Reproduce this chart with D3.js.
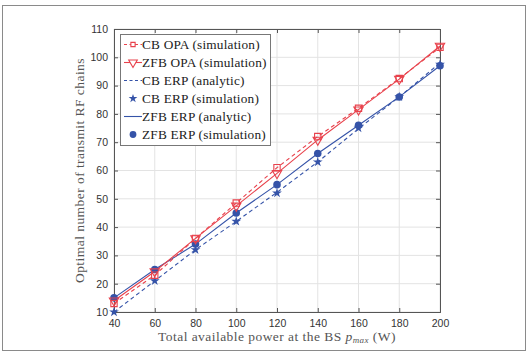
<!DOCTYPE html>
<html><head><meta charset="utf-8">
<script src="https://cdn.jsdelivr.net/npm/d3@7"></script>
<style>body{margin:0;background:#fff}svg{display:block}
.serif{font-family:'Liberation Serif','DejaVu Serif','Times New Roman',serif}
.sans{font-family:'Liberation Sans',Arial,sans-serif}
</style>
</head><body>
<script>
const xValues = [40, 60, 80, 100, 120, 140, 160, 180, 200];
const cbOpaSim = [13, 23, 36, 48.5, 61, 72, 82, 92.5, 103.5];
const zfbOpaSim = [14, 24.3, 36, 47.5, 59, 70.8, 81.5, 92.3, 104];
const cbErpAnalytic = [10, 21, 32, 42, 52.3, 63, 74.8, 86, 98];
const cbErpSim = [10, 21, 32, 42, 52, 63, 75, 86, 97.5];
const zfbErpAnalytic = [15, 25, 34, 45, 55, 66, 76, 86, 97];
const zfbErpSim = [15, 25, 34, 45, 55, 66, 76, 86, 97];
const xTicks = [40, 60, 80, 100, 120, 140, 160, 180, 200];
const yTicks = [10, 20, 30, 40, 50, 60, 70, 80, 90, 100, 110];
const legendLabels = ["CB OPA (simulation)", "ZFB OPA (simulation)", "CB ERP (analytic)", "CB ERP (simulation)", "ZFB ERP (analytic)", "ZFB ERP (simulation)"];

const W = 529, H = 353;
const m = {l: 114, r: 440, t: 29, b: 312};
const RED = "#e8424c", BLUE = "#3553a8";
const svg = d3.select("body").append("svg").attr("width", W).attr("height", H);
svg.append("rect").attr("x", 2.5).attr("y", 5.5).attr("width", 523).attr("height", 345)
  .attr("fill", "#fff").attr("stroke", "#8a8a8a").attr("stroke-width", 1);

const x = d3.scaleLinear().domain([40, 200]).range([m.l, m.r]);
const y = d3.scaleLinear().domain([10, 110]).range([m.b, m.t]);

// grid
const g = svg.append("g");
g.selectAll(".gx").data(xTicks).join("line").attr("x1", d => x(d)).attr("x2", d => x(d))
  .attr("y1", m.t).attr("y2", m.b).attr("stroke", "#e3e3e3").attr("stroke-width", 1);
g.selectAll(".gy").data(yTicks).join("line").attr("y1", d => y(d)).attr("y2", d => y(d))
  .attr("x1", m.l).attr("x2", m.r).attr("stroke", "#e3e3e3").attr("stroke-width", 1);

// axes
const axCol = "#555";
const xAxis = svg.append("g").attr("transform", `translate(0,${m.b})`)
  .call(d3.axisBottom(x).tickValues(xTicks).tickSize(-4).tickPadding(8));
const xAxisTop = svg.append("g").attr("transform", `translate(0,${m.t})`)
  .call(d3.axisTop(x).tickValues(xTicks).tickSize(-4).tickFormat(""));
const yAxis = svg.append("g").attr("transform", `translate(${m.l},0)`)
  .call(d3.axisLeft(y).tickValues(yTicks).tickSize(-4).tickPadding(6));
const yAxisR = svg.append("g").attr("transform", `translate(${m.r},0)`)
  .call(d3.axisRight(y).tickValues(yTicks).tickSize(-4).tickFormat(""));
[xAxis, xAxisTop, yAxis, yAxisR].forEach(a => {
  a.attr("font-family", null);
  a.select(".domain").attr("stroke", axCol);
  a.selectAll(".tick line").attr("stroke", axCol);
  a.selectAll("text").attr("fill", "#333").attr("class", "sans").attr("font-size", 10.5);
});

// lines
const line = d3.line().x((d, i) => x(xValues[i])).y(d => y(d));
const plot = svg.append("g");
plot.append("path").datum(cbErpAnalytic).attr("d", line).attr("fill", "none").attr("stroke", BLUE).attr("stroke-width", 1.1).attr("stroke-dasharray", "4,3");
plot.append("path").datum(zfbErpAnalytic).attr("d", line).attr("fill", "none").attr("stroke", BLUE).attr("stroke-width", 1.1);
plot.append("path").datum(cbOpaSim).attr("d", line).attr("fill", "none").attr("stroke", RED).attr("stroke-width", 1.1).attr("stroke-dasharray", "4,3");
plot.append("path").datum(zfbOpaSim).attr("d", line).attr("fill", "none").attr("stroke", RED).attr("stroke-width", 1.1);

const sq = d3.symbol().type(d3.symbolSquare).size(40);
const tri = d3.symbol().type(d3.symbolTriangle).size(38);
const star = d3.symbol().type(d3.symbolStar).size(30);
const circ = d3.symbol().type(d3.symbolCircle).size(45);

plot.selectAll(".st").data(cbErpSim).join("path").attr("d", star)
  .attr("transform", (d, i) => `translate(${x(xValues[i])},${y(d)})`).attr("fill", BLUE);
plot.selectAll(".ci").data(zfbErpSim).join("path").attr("d", circ)
  .attr("transform", (d, i) => `translate(${x(xValues[i])},${y(d)})`).attr("fill", BLUE);
plot.selectAll(".sq").data(cbOpaSim).join("path").attr("d", sq)
  .attr("transform", (d, i) => `translate(${x(xValues[i])},${y(d)})`).attr("fill", "none").attr("stroke", RED).attr("stroke-width", 1.1);
plot.selectAll(".tr").data(zfbOpaSim).join("path").attr("d", tri)
  .attr("transform", (d, i) => `translate(${x(xValues[i])},${y(d)}) rotate(180)`).attr("fill", "none").attr("stroke", RED).attr("stroke-width", 1.1);

// legend
const lg = svg.append("g");
lg.append("rect").attr("x", 120.5).attr("y", 34.5).attr("width", 150).attr("height", 111)
  .attr("fill", "#fff").attr("stroke", "#777").attr("stroke-width", 1);
const legendStyle = [
  {c: RED, dash: "3,2.5", line: true, mk: d3.symbol().type(d3.symbolSquare).size(18), fill: false},
  {c: RED, dash: null, line: true, mk: d3.symbol().type(d3.symbolTriangle).size(32), fill: false, rot: true},
  {c: BLUE, dash: "3,2.5", line: true, mk: null},
  {c: BLUE, dash: null, line: false, mk: d3.symbol().type(d3.symbolStar).size(24), fill: true},
  {c: BLUE, dash: null, line: true, mk: null},
  {c: BLUE, dash: null, line: false, mk: d3.symbol().type(d3.symbolCircle).size(36), fill: true}
];
legendLabels.forEach((lab, i) => {
  const yy = 44.5 + i * 18;
  const s = legendStyle[i];
  if (s.line) lg.append("line").attr("x1", 124).attr("x2", 142).attr("y1", yy).attr("y2", yy)
    .attr("stroke", s.c).attr("stroke-width", 1.1).attr("stroke-dasharray", s.dash);
  if (s.mk) lg.append("path").attr("d", s.mk).attr("transform", `translate(133,${yy})${s.rot ? " rotate(180)" : ""}`)
    .attr("fill", s.fill ? s.c : "#fff").attr("stroke", s.fill ? "none" : s.c).attr("stroke-width", 1.1);
  lg.append("text").attr("x", 142).attr("y", yy + 4.3).text(lab).attr("class", "serif")
    .attr("font-size", 13.3).attr("letter-spacing", 0.2).attr("fill", "#222");
});

// axis labels
const xl = svg.append("text").attr("x", 277).attr("y", 341).attr("text-anchor", "middle")
  .attr("class", "serif").attr("font-size", 13.5).attr("letter-spacing", 0.45).attr("fill", "#555");
xl.append("tspan").text("Total available power at the BS ");
xl.append("tspan").text("p").attr("font-style", "italic");
xl.append("tspan").text("max").attr("font-style", "italic").attr("font-size", 9).attr("dy", 2);
xl.append("tspan").text(" (W)").attr("dy", -2);

svg.append("text").attr("transform", `translate(84,${(m.t + m.b) / 2}) rotate(-90)`)
  .attr("text-anchor", "middle").attr("class", "serif").attr("font-size", 13.5).attr("letter-spacing", 0.45)
  .attr("fill", "#555").text("Optimal number of transmit RF chains");
</script>
</body></html>
